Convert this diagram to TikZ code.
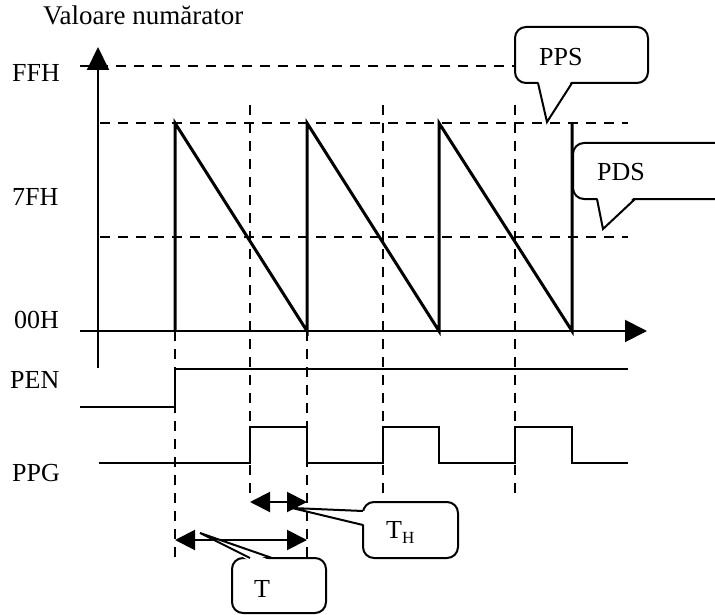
\documentclass[tikz,border=0pt]{standalone}
\usepackage{fontspec}
\setmainfont{Liberation Serif}
\usetikzlibrary{arrows.meta}
\begin{document}
\begin{tikzpicture}[x=1pt,y=-1pt,
  axis/.style={line width=2pt},
  wave/.style={line width=2pt},
  saw/.style={line width=3pt, line join=miter},
  guide/.style={line width=2pt, dash pattern=on 10pt off 8pt},
  lbl/.style={inner sep=0pt, anchor=base west, font=\fontsize{26}{30}\selectfont},
  callout/.style={draw, line width=2pt, rounded corners=11pt, fill=white, inner sep=0pt},
  dimarrow/.style={line width=2pt, {Triangle[length=20pt,width=20pt]}-{Triangle[length=20pt,width=20pt]}},
]
\clip (0,0) rectangle (715,615);

% labels
\node[lbl, font=\fontsize{27}{30}\selectfont] (title) at (43,25) {Valoare numărator};
\node[lbl] (ffh) at (12,82) {FFH};
\node[lbl] (h7f) at (12,205) {7FH};
\node[lbl] (h00) at (14,328) {00H};
\node[lbl] (pen) at (10,388) {PEN};
\node[lbl] (ppg) at (12,481) {PPG};

% axes
\coordinate (yb) at (98,368);
\coordinate (yt) at (98,47);
\coordinate (xl) at (80,331);
\coordinate (xr) at (647,331);

% horizontal guide levels
\draw[guide] (80,66) -- (515,66);
\draw[guide] (100,123) -- (628,123);
\draw[guide] (100,237) -- (628,237);

% vertical guides
\draw[guide] (175,331) -- (175,557);
\draw[guide] (250,105) -- (250,500);
\draw[guide] (307,331) -- (307,557);
\draw[guide] (383,105) -- (383,500);
\draw[guide] (515,105) -- (515,500);

\draw[axis, -{Triangle[length=23pt,width=22pt]}] (yb) -- (yt);
\draw[axis, -{Triangle[length=22pt,width=22pt]}] (xl) -- (xr);

% counter value
\draw[saw] (175,331) -- (175,123) -- (307,331) -- (307,123) -- (439,331)
  -- (439,123) -- (572,331) -- (572,123);

% PEN
\draw[wave] (80,407) -- (175,407) -- (175,369) -- (628,369);

% PPG
\draw[wave] (99,463) -- (250,463) -- (250,427) -- (307,427) -- (307,463)
  -- (383,463) -- (383,427) -- (439,427) -- (439,463) -- (515,463)
  -- (515,427) -- (572,427) -- (572,463) -- (628,463);

% durations
\coordinate (thL) at (250,502);
\coordinate (thR) at (307,502);
\coordinate (tL) at (175,540);
\coordinate (tR) at (307,540);
\draw[dimarrow] (thL) -- (thR);
\draw[dimarrow] (tL) -- (tR);

% callout PPS
\node[callout, minimum width=133pt, minimum height=56pt] (ppsbox) at (581.5,55) {};
\coordinate (ppsA) at (547,122);
\fill[white] (538,80) -- (ppsA) -- (572,80) -- cycle;
\draw[line width=2pt, line join=miter] (538,83) -- (ppsA) -- (572,83);
\node[lbl] (pps) at (539,66) {PPS};

% callout PDS
\node[callout, minimum width=162pt, minimum height=56pt] (pdsbox) at (654,171) {};
\coordinate (pdsA) at (603,229);
\fill[white] (597,196) -- (pdsA) -- (635,196) -- cycle;
\draw[line width=2pt, line join=miter] (597,199) -- (pdsA) -- (635,199);
\node[lbl] (pds) at (597,180) {PDS};

% callout T_H
\node[callout, minimum width=95pt, minimum height=56pt] (thbox) at (410.5,530) {};
\coordinate (thA) at (292,508);
\fill[white] (366,511) -- (thA) -- (366,525) -- cycle;
\draw[line width=2pt, line join=miter] (363,511) -- (thA) -- (363,525);
\node[lbl] (th) at (386,538) {T\raisebox{-5pt}{\fontsize{17}{18}\selectfont H}};

% callout T
\node[callout, minimum width=94pt, minimum height=55pt] (tbox) at (279,585.5) {};
\coordinate (tA) at (200,533);
\fill[white] (250,561) -- (tA) -- (272,561) -- cycle;
\draw[line width=2pt, line join=miter] (250,558) -- (tA) -- (272,558);
\node[lbl] (t) at (254,597) {T};
\end{tikzpicture}
\end{document}
